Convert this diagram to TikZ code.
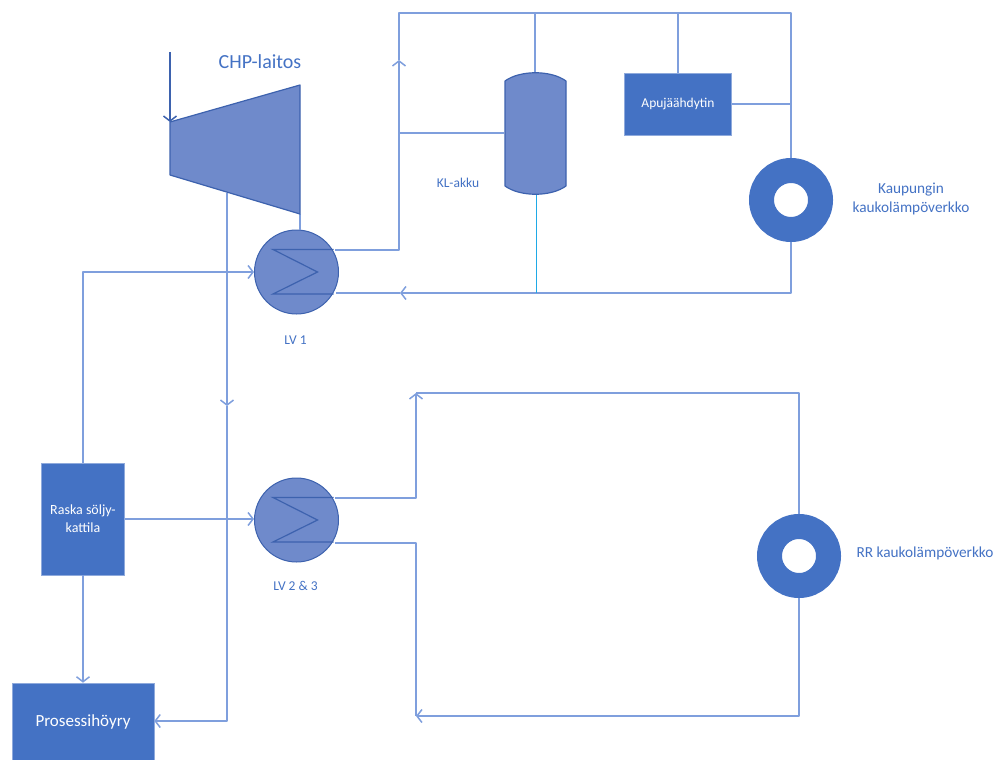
\documentclass[tikz,border=0pt]{standalone}
\usepackage{fontspec}
\setmainfont{Carlito}
\usepackage{tikz}
\usetikzlibrary{calc}
\usetikzlibrary{arrows.meta}
\definecolor{pipeBlue}{HTML}{7F9FDD}
\definecolor{boxBlue}{HTML}{4472C4}
\definecolor{unitBlue}{HTML}{6F8ACB}
\definecolor{edgeBlue}{HTML}{3D62AE}
\definecolor{akkuCyan}{HTML}{1FA9E6}

\begin{document}
\begin{tikzpicture}[
    x=1pt, y=-1pt,
    >={Straight Barb[length=5pt,width=13pt,line width=1.5pt]}, % open arrow head
    pipe/.style={draw=pipeBlue, line width=1.8pt, line join=round},
    % Styling for the nodes
    boxNode/.style={
        rectangle,
        fill=boxBlue,
        draw=boxBlue!60,
        line width=0.6pt,
        inner sep=0pt,
        text=white,
        align=center,
        font=\fontsize{14}{18}\selectfont
    },
    hxNode/.style={
        circle,
        fill=unitBlue,
        draw=edgeBlue,
        line width=1pt,
        inner sep=0pt,
        minimum size=84pt
    },
    ringNode/.style={
        circle,
        draw=boxBlue,
        fill=white,
        line width=25pt,
        inner sep=0pt,
        minimum size=59pt
    },
    labelNode/.style={
        text=boxBlue,
        inner sep=0pt,
        align=center,
        font=\fontsize{15.3}{19}\selectfont
    },
    unitPath/.style={fill=unitBlue, draw=edgeBlue, line width=1.2pt, line join=round},
    coilPath/.style={draw=edgeBlue, line width=1.2pt, line join=miter}
]
    \useasboundingbox (0,0) rectangle (1001,760);

    % Define Nodes
    \node[hxNode] (lvOne) at (296.5,272) {};
    \node[hxNode] (lvTwo) at (296.5,520) {};
    \node[ringNode] (cityRing) at (791,200) {};
    \node[ringNode] (rrRing) at (799,556) {};
    \node[boxNode, minimum width=107pt, minimum height=62pt, font=\fontsize{13.5}{16}\selectfont] (apu) at (678,104) {Apujäähdytin};
    \node[boxNode, minimum width=83pt, minimum height=112pt] (boiler) at (83,519) {Raska söljy-\\kattila};
    \node[boxNode, minimum width=142pt, minimum height=78pt, font=\fontsize{17}{19}\selectfont] (steam) at (83,722) {Prosessihöyry};
    \node[minimum width=61pt, minimum height=122pt, inner sep=0pt] (akku) at (535,133) {};

    % Define Coordinates
    \coordinate (steamIn) at (170,52);
    \coordinate (turbIn) at (170,122);
    \coordinate (turbOut) at (300,214);
    \coordinate (turbTap) at (227,193);
    \coordinate (lvOneOut) at (335,250);
    \coordinate (lvOneRet) at (336,293);
    \coordinate (cityUp) at (399,60);
    \coordinate (cityCorner) at (399,250);
    \coordinate (cityTop) at (399,13);
    \coordinate (topRight) at (791,13);
    \coordinate (retRight) at (791,293);
    \coordinate (retArrow) at (400,293);
    \coordinate (tapDown) at (227,406);
    \coordinate (tapCorner) at (227,721);
    \coordinate (boilerCorner) at (83,272);
    \coordinate (lvTwoOut) at (335,498);
    \coordinate (lvTwoRet) at (335,543);
    \coordinate (rrTip) at (416,393);
    \coordinate (rrLow) at (416,716);

    % Draw Edges
    \draw[pipe, ->, draw=edgeBlue] (steamIn) -- (turbIn);
    \draw[pipe, ->] (lvOneOut) -- (cityCorner) -- (cityUp);
    \draw[pipe] (cityUp) -- (cityTop) -- (topRight) -- (cityRing.north);
    \draw[pipe, ->] (cityRing.south) -- (retRight) -- (retArrow);
    \draw[pipe] (retArrow) -- (lvOneRet);
    \draw[pipe] (akku.north |- cityTop) -- (akku.north);
    \draw[pipe] (apu.north |- cityTop) -- (apu.north);
    \draw[pipe] (apu.east) -- (apu.east -| topRight);
    \draw[pipe] (akku.west -| cityTop) -- (akku.west);
    \draw[akkuCyan, line width=1.5pt] (536.5,190) -- (536.5,293);
    \draw[pipe] (turbOut) -- (turbOut |- lvOne.north);
    \draw[pipe, ->] (turbTap) -- (tapDown);
    \draw[pipe, ->] (tapDown) -- (tapCorner) -- (steam.east |- tapCorner);
    \draw[pipe, ->] (boiler.north) -- (boilerCorner) -- (lvOne.west);
    \draw[pipe, ->] (boiler.east) -- (boiler.east -| lvTwo.west);
    \draw[pipe, ->] (boiler.south) -- (steam.north);
    \draw[pipe, ->] (lvTwoOut) -- (lvTwoOut -| rrTip) -- (rrTip);
    \draw[pipe] (rrTip) -- (rrTip -| rrRing) -- (rrRing.north);
    \draw[pipe, ->] (rrRing.south) -- (rrRing.south |- rrLow) -- (rrLow);
    \draw[pipe] (rrLow) -- (lvTwoRet -| rrLow) -- (lvTwoRet);

    % Draw Units
    \fill[unitPath] (turbIn) -- (300,85) -- (turbOut) -- (170,175) -- cycle;
    \fill[unitPath] (505,81) .. controls (520,70) and (551,70) .. (566,81) -- (566,186)
        .. controls (551,197) and (520,197) .. (505,186) -- cycle;
    \foreach \hx in {lvOne,lvTwo} {
        \draw[coilPath] ($(\hx)+(37,-22.5)$) -- ($(\hx)+(-23.5,-22.5)$) -- ($(\hx)+(21,0)$)
            -- ($(\hx)+(-23.5,22)$) -- ($(\hx)+(37,22)$);
    }

    % Labels
    \node[labelNode, font=\fontsize{20}{22}\selectfont] (chpLabel) at (260,62) {CHP-laitos};
    \node[labelNode, font=\fontsize{13.5}{15}\selectfont] (akkuLabel) at (458,183) {KL-akku};
    \node[labelNode, font=\fontsize{13.5}{15}\selectfont] (lvOneLabel) at (295.5,340) {LV 1};
    \node[labelNode, font=\fontsize{13.5}{15}\selectfont] (lvTwoLabel) at (295.5,586) {LV 2 \& 3};
    \node[labelNode] (cityLabel) at (911,199) {Kaupungin\\kaukolämpöverkko};
    \node[labelNode] (rrLabel) at (925,553) {RR kaukolämpöverkko};

\end{tikzpicture}
\end{document}
